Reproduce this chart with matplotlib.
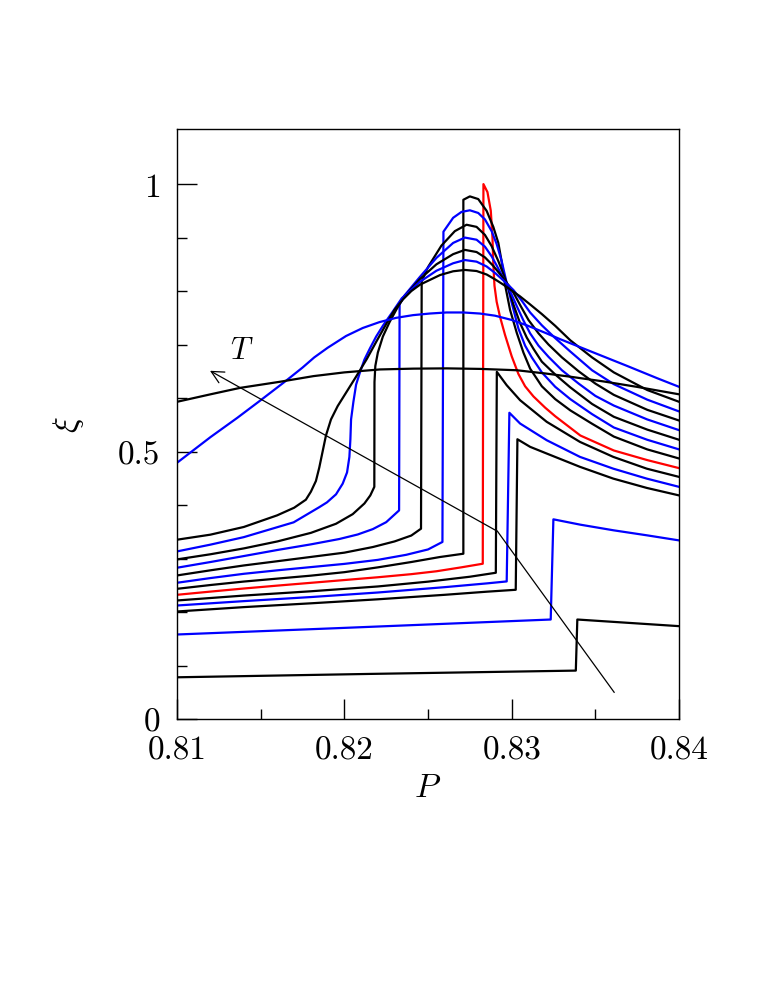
import matplotlib
matplotlib.use('Agg')
import matplotlib.pyplot as plt
from matplotlib.ticker import FixedLocator

plt.rcParams['mathtext.fontset'] = 'cm'
plt.rcParams['font.family'] = ['cmr10', 'DejaVu Serif']

# curves, ordered along the T arrow (jump at large P first, flat one last)
p1 = [0.81, 0.8215, 0.83383, 0.83392, 0.84]
xi1 = [0.078, 0.0843, 0.0905, 0.186, 0.1736]

p2 = [0.81, 0.8197, 0.83233, 0.83249, 0.8341, 0.8361, 0.8381, 0.84]
xi2 = [0.158, 0.170, 0.186, 0.3733, 0.3633, 0.3527, 0.3433, 0.3339]

p3 = [0.81, 0.814, 0.818, 0.822, 0.826, 0.8285, 0.83024,
      0.83034, 0.8311, 0.83209, 0.83408, 0.83607, 0.83807, 0.84]
xi3 = [0.2010, 0.2092, 0.2163, 0.2238, 0.2322, 0.2380, 0.2416,
       0.523, 0.5088, 0.4963, 0.4714, 0.4494, 0.432, 0.418]

p4 = [0.81, 0.814, 0.818, 0.822, 0.826, 0.8285, 0.8297,
      0.82986, 0.8305, 0.83209, 0.83408, 0.83607, 0.83807, 0.84]
xi4 = [0.2122, 0.2204, 0.2280, 0.2365, 0.2465, 0.2535, 0.2572,
       0.5725, 0.5524, 0.5212, 0.490, 0.468, 0.4494, 0.434]

p5 = [0.81, 0.814, 0.818, 0.822, 0.825, 0.8275, 0.82905,
      0.82911, 0.8297, 0.8305, 0.83209, 0.83408, 0.83607, 0.83807, 0.84]
xi5 = [0.2216, 0.2308, 0.2388, 0.2478, 0.2568, 0.2660, 0.2734,
       0.649, 0.624, 0.596, 0.5556, 0.518, 0.490, 0.468, 0.4526]

# red curve
p6 = [0.81, 0.812, 0.814, 0.816, 0.818, 0.820, 0.822, 0.824, 0.8255, 0.827, 0.82827,
      0.82831, 0.82855, 0.82875, 0.82885, 0.8289, 0.82897, 0.8291, 0.8293, 0.8296, 0.8300,
      0.8304, 0.8308, 0.8313, 0.8320, 0.8326, 0.8341, 0.8361, 0.8381, 0.84]
xi6 = [0.2322, 0.2382, 0.2440, 0.2494, 0.2546, 0.2598, 0.2650, 0.2708, 0.2762, 0.2836, 0.2903,
       1.0, 0.985, 0.95, 0.90, 0.85, 0.81, 0.78, 0.752, 0.718, 0.678,
       0.645, 0.622, 0.603, 0.582, 0.566, 0.530, 0.502, 0.484, 0.469]

p7 = [0.81, 0.812, 0.814, 0.816, 0.818, 0.820, 0.822, 0.824, 0.8257, 0.82711,
      0.82711, 0.8275, 0.8280, 0.8285, 0.8289, 0.8292, 0.8294, 0.8296, 0.8299, 0.8303,
      0.8307, 0.8311, 0.8318, 0.8326, 0.8335, 0.8348, 0.8361, 0.8381, 0.84]
xi7 = [0.2434, 0.2505, 0.2570, 0.2625, 0.2680, 0.2745, 0.2835, 0.2935, 0.3028, 0.309,
       0.9707, 0.977, 0.972, 0.950, 0.92, 0.89, 0.855, 0.812, 0.765, 0.722,
       0.685, 0.655, 0.622, 0.598, 0.577, 0.552, 0.528, 0.504, 0.487]

p8 = [0.81, 0.812, 0.814, 0.816, 0.818, 0.820, 0.822, 0.8237, 0.8250, 0.82586,
      0.82592, 0.8265, 0.8270, 0.8275, 0.8280, 0.8284, 0.8288, 0.8291, 0.8294, 0.8297,
      0.8300, 0.8304, 0.8308, 0.8312, 0.8318, 0.8326, 0.8335, 0.8348, 0.8361, 0.8381, 0.84]
xi8 = [0.2547, 0.2635, 0.2715, 0.2780, 0.2840, 0.2900, 0.2975, 0.3070, 0.3170, 0.331,
       0.911, 0.937, 0.948, 0.951, 0.946, 0.934, 0.912, 0.888, 0.856, 0.815,
       0.778, 0.730, 0.698, 0.676, 0.648, 0.621, 0.598, 0.570, 0.545, 0.522, 0.504]

p9 = [0.81, 0.812, 0.814, 0.816, 0.818, 0.820, 0.8217, 0.8230, 0.8240, 0.82458,
      0.82462, 0.8250, 0.8258, 0.8266, 0.8273, 0.8279, 0.8284, 0.8288, 0.8292, 0.8295,
      0.8298, 0.8301, 0.8305, 0.8309, 0.8313, 0.8318, 0.8326, 0.8335, 0.8348, 0.8361,
      0.8381, 0.84]
xi9 = [0.2684, 0.2780, 0.2871, 0.2950, 0.3030, 0.3110, 0.3215, 0.3320, 0.3430, 0.3558,
       0.818, 0.845, 0.885, 0.912, 0.924, 0.920, 0.905, 0.884, 0.856, 0.832,
       0.806, 0.775, 0.740, 0.713, 0.692, 0.668, 0.644, 0.620, 0.589, 0.565,
       0.541, 0.522]

p10 = [0.81, 0.812, 0.814, 0.816, 0.818, 0.8197, 0.8208, 0.8217, 0.8225, 0.82327,
       0.8233, 0.8236, 0.8245, 0.8255, 0.8265, 0.8272, 0.8279, 0.8284, 0.8288, 0.8292,
       0.8296, 0.8299, 0.8303, 0.8307, 0.8311, 0.8316, 0.8322, 0.8330, 0.8340, 0.8350,
       0.8361, 0.8381, 0.84]
xi10 = [0.2828, 0.2935, 0.3047, 0.3160, 0.3265, 0.3365, 0.3450, 0.3550, 0.3680, 0.390,
        0.775, 0.792, 0.826, 0.862, 0.89, 0.900, 0.896, 0.883, 0.865, 0.842,
        0.818, 0.800, 0.772, 0.745, 0.721, 0.698, 0.677, 0.652, 0.627, 0.604,
        0.586, 0.560, 0.540]

p11 = [0.81, 0.812, 0.814, 0.816, 0.818, 0.8195, 0.8205, 0.8212, 0.82155, 0.82179,
       0.8218, 0.82185, 0.8220, 0.8223, 0.8227, 0.8231, 0.8235, 0.8245, 0.8255, 0.8265,
       0.8272, 0.8279, 0.8284, 0.8289, 0.8294, 0.8300, 0.8305, 0.8310, 0.8316, 0.8322,
       0.8330, 0.8340, 0.8350, 0.8361, 0.8381, 0.84]
xi11 = [0.2984, 0.3080, 0.3190, 0.3320, 0.3480, 0.3650, 0.3830, 0.4030, 0.4180, 0.434,
        0.63, 0.66, 0.685, 0.715, 0.742, 0.765, 0.787, 0.822, 0.850, 0.869,
        0.877, 0.873, 0.863, 0.847, 0.828, 0.803, 0.774, 0.746, 0.721, 0.700,
        0.676, 0.650, 0.627, 0.606, 0.578, 0.558]

p12 = [0.81, 0.812, 0.81399, 0.81697, 0.8185, 0.81896, 0.8195, 0.8199, 0.82016, 0.8203,
       0.82036, 0.8204, 0.82054, 0.8207, 0.82094, 0.8212, 0.82153, 0.8219, 0.82233, 0.8229,
       0.82343, 0.8245, 0.8255, 0.8265, 0.8272, 0.8279, 0.8285, 0.8290, 0.8295, 0.8301,
       0.8306, 0.8311, 0.8318, 0.8326, 0.8335, 0.8348, 0.8361, 0.8381, 0.84]
xi12 = [0.3133, 0.326, 0.340, 0.3677, 0.396, 0.405, 0.42, 0.44, 0.461, 0.49,
        0.523, 0.56, 0.593, 0.625, 0.649, 0.672, 0.693, 0.715, 0.7365, 0.762,
        0.7865, 0.817, 0.838, 0.852, 0.858, 0.855, 0.846, 0.834, 0.820, 0.802,
        0.782, 0.760, 0.736, 0.712, 0.687, 0.652, 0.626, 0.597, 0.575]

p13 = [0.81, 0.81199, 0.81399, 0.81598, 0.8170, 0.8177, 0.8180, 0.8183, 0.8185, 0.8187,
       0.8189, 0.8192, 0.8196, 0.8201, 0.8207, 0.82134, 0.8219, 0.82253, 0.8230, 0.82352,
       0.8240, 0.82452, 0.82572, 0.8265, 0.8272, 0.8279, 0.8285, 0.8290, 0.8295, 0.8300,
       0.8305, 0.8311, 0.8318, 0.8326, 0.8335, 0.8348, 0.8361, 0.8381, 0.84]
xi13 = [0.3352, 0.3446, 0.359, 0.3807, 0.395, 0.41, 0.425, 0.445, 0.47, 0.50,
        0.53, 0.56, 0.585, 0.61, 0.64, 0.673, 0.705, 0.740, 0.765, 0.785,
        0.80, 0.812, 0.830, 0.837, 0.8395, 0.8375, 0.831, 0.822, 0.812, 0.801,
        0.790, 0.775, 0.757, 0.735, 0.708, 0.676, 0.648, 0.615, 0.593]

p14 = [0.81, 0.8120, 0.8136, 0.8150, 0.8165, 0.8175, 0.8182, 0.8190, 0.8201, 0.8211,
       0.8221, 0.8231, 0.8241, 0.8251, 0.8261, 0.8271, 0.8281, 0.8290, 0.8300, 0.8309,
       0.8320, 0.8329, 0.8349, 0.8369, 0.8387, 0.84]
xi14 = [0.479, 0.527, 0.563, 0.596, 0.632, 0.657, 0.676, 0.694, 0.716, 0.731,
        0.742, 0.750, 0.755, 0.758, 0.760, 0.760, 0.758, 0.754, 0.746, 0.736,
        0.722, 0.710, 0.685, 0.660, 0.637, 0.621]

p15 = [0.81, 0.8120, 0.81376, 0.81616, 0.81815, 0.8200, 0.82213, 0.82412, 0.82612, 0.82811,
       0.8303, 0.8320, 0.83348, 0.8355, 0.83747, 0.84]
xi15 = [0.593, 0.607, 0.619, 0.6305, 0.641, 0.648, 0.6535, 0.655, 0.6555, 0.6545,
        0.652, 0.646, 0.640, 0.631, 0.621, 0.607]

colors = ['k', 'b', 'k', 'b', 'k', 'r', 'k', 'b', 'k', 'b', 'k', 'b', 'k', 'b', 'k']

# arrow "T"
arrow_p = [0.83612, 0.82915, 0.81197]
arrow_xi = [0.050, 0.3508, 0.651]

xticks = [0.81, 0.82, 0.83, 0.84]
xticklabels = ['0.81', '0.82', '0.83', '0.84']
yticks = [0, 0.5, 1]
yticklabels = ['0', '0.5', '1']

fig = plt.figure(figsize=(7.63, 9.87), dpi=100)
ax = fig.add_axes([0.232, 0.2705, 0.658, 0.5978])

ps = [p1, p2, p3, p4, p5, p6, p7, p8, p9, p10, p11, p12, p13, p14, p15]
xis = [xi1, xi2, xi3, xi4, xi5, xi6, xi7, xi8, xi9, xi10, xi11, xi12, xi13, xi14, xi15]
for p, xi, c in zip(ps, xis, colors):
    ax.plot(p, xi, color=c, lw=1.6, solid_joinstyle='round')

ax.plot(arrow_p[:2], arrow_xi[:2], color='k', lw=0.9)
ax.annotate('', xy=(arrow_p[2], arrow_xi[2]), xytext=(arrow_p[1], arrow_xi[1]),
            arrowprops=dict(arrowstyle='->', lw=0.9, color='k', shrinkA=0, shrinkB=0,
                            mutation_scale=22))
ax.text(0.81387, 0.69, r'$T$', fontsize=22, ha='center', va='center')

ax.set_xlim(0.81, 0.84)
ax.set_ylim(0, 1.103)
ax.set_xticks(xticks)
ax.set_xticklabels(xticklabels)
ax.set_yticks(yticks)
ax.set_yticklabels(yticklabels)
ax.xaxis.set_minor_locator(FixedLocator([0.815, 0.825, 0.835]))
ax.yaxis.set_minor_locator(FixedLocator([0.1, 0.2, 0.3, 0.4, 0.6, 0.7, 0.8, 0.9]))
ax.tick_params(which='both', direction='in', top=False, right=False, labelsize=24, width=1)
ax.tick_params(which='major', length=14.5, pad=12)
ax.tick_params(which='minor', length=7.2)
for s in ax.spines.values():
    s.set_linewidth(1)

ax.set_xlabel(r'$P$', fontsize=24, labelpad=6)
ax.set_ylabel(r'$\xi$', fontsize=24, labelpad=23, rotation=90)

fig.savefig('out.png', dpi=100)
